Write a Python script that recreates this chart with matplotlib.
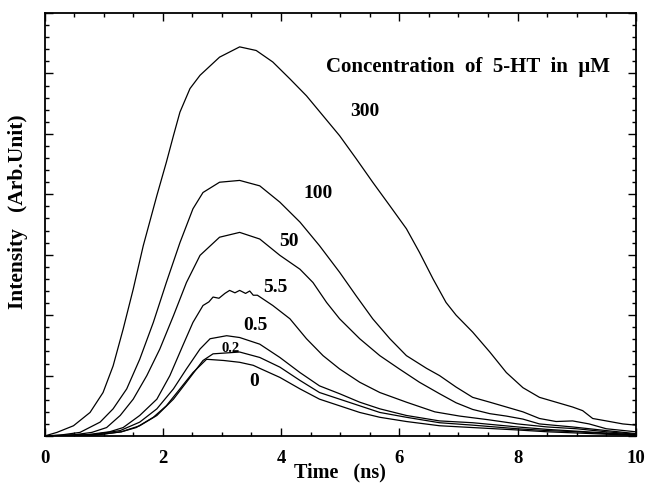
import numpy as np
import matplotlib
matplotlib.use("Agg")
import matplotlib.pyplot as plt
from matplotlib.ticker import MultipleLocator, NullFormatter

plt.rcParams['font.family'] = ['Liberation Serif', 'DejaVu Serif']
plt.rcParams['font.weight'] = 'bold'

# time (ns) / intensity (arb. units), one pair per concentration
t_300 = [0, 0.21, 0.49, 0.77, 0.99, 1.16, 1.33, 1.5, 1.67, 1.9, 2.06, 2.18, 2.29, 2.46, 2.63, 2.96, 3.3,
         3.58, 3.86, 4.15, 4.43, 4.71, 4.99, 5.27, 5.55, 5.84, 6.12, 6.34, 6.57, 6.79, 6.96, 7.24, 7.53,
         7.81, 8.09, 8.37, 8.65, 8.93, 9.1, 9.27, 9.5, 9.78, 10]
i_300 = [0, 0.06, 0.17, 0.39, 0.72, 1.16, 1.77, 2.43, 3.15, 3.98, 4.53, 4.97, 5.36, 5.75, 5.97, 6.27, 6.44,
         6.38, 6.19, 5.91, 5.63, 5.3, 4.97, 4.59, 4.2, 3.81, 3.43, 3.04, 2.6, 2.21, 2.0, 1.72, 1.39,
         1.05, 0.8, 0.64, 0.56, 0.48, 0.42, 0.29, 0.25, 0.2, 0.18]

t_100 = [0, 0.3, 0.6, 0.94, 1.16, 1.39, 1.61, 1.84, 2.06, 2.29, 2.51, 2.68, 2.96, 3.3, 3.64, 3.98, 4.32,
         4.65, 4.99, 5.27, 5.55, 5.84, 6.12, 6.46, 6.68, 6.96, 7.24, 7.53, 7.81, 8.09, 8.37, 8.65, 8.93,
         9.21, 9.5, 10]
i_100 = [0, 0.02, 0.06, 0.23, 0.45, 0.78, 1.27, 1.88, 2.54, 3.2, 3.76, 4.03, 4.2, 4.23, 4.14, 3.87, 3.54,
         3.15, 2.71, 2.32, 1.94, 1.61, 1.33, 1.12, 1.0, 0.81, 0.64, 0.56, 0.48, 0.4, 0.29, 0.24, 0.25,
         0.2, 0.12, 0.07]

t_50 = [0, 0.5, 0.8, 1.05, 1.28, 1.5, 1.73, 1.95, 2.18, 2.4, 2.63, 2.96, 3.3, 3.64, 3.98, 4.32, 4.54,
        4.77, 4.99, 5.33, 5.67, 6.0, 6.34, 6.68, 6.96, 7.24, 7.53, 7.81, 8.09, 8.37, 8.93, 9.5, 10]
i_50 = [0, 0.02, 0.06, 0.14, 0.34, 0.61, 1.0, 1.44, 1.99, 2.54, 2.99, 3.29, 3.37, 3.26, 2.99, 2.76, 2.54,
        2.21, 1.94, 1.61, 1.33, 1.11, 0.89, 0.7, 0.55, 0.44, 0.37, 0.33, 0.28, 0.2, 0.15, 0.09, 0.04]

t_5p5 = [0, 0.7, 1.1, 1.33, 1.61, 1.9, 2.12, 2.34, 2.51, 2.68, 2.78, 2.85, 2.95, 3.05, 3.13, 3.22, 3.3,
         3.4, 3.47, 3.53, 3.6, 3.86, 4.15, 4.43, 4.71, 4.99, 5.33, 5.67, 6.12, 6.6, 7.02, 7.5, 8.0, 8.5,
         9.0, 9.5, 10]
i_5p5 = [0, 0.02, 0.07, 0.14, 0.34, 0.61, 1.0, 1.5, 1.88, 2.16, 2.22, 2.3, 2.28, 2.36, 2.41, 2.37, 2.41,
         2.36, 2.4, 2.33, 2.33, 2.16, 1.94, 1.61, 1.33, 1.11, 0.89, 0.72, 0.56, 0.4, 0.33, 0.27, 0.2, 0.15,
         0.12, 0.07, 0.03]

t_0p5 = [0, 0.8, 1.28, 1.61, 1.9, 2.18, 2.4, 2.63, 2.8, 3.08, 3.3, 3.64, 3.98, 4.32, 4.65, 4.99, 5.33,
         5.67, 6.12, 6.68, 7.24, 8.0, 8.5, 9.0, 9.5, 10]
i_0p5 = [0, 0.02, 0.09, 0.23, 0.45, 0.78, 1.11, 1.44, 1.61, 1.66, 1.63, 1.52, 1.3, 1.05, 0.83, 0.7, 0.56,
         0.45, 0.34, 0.25, 0.22, 0.15, 0.11, 0.08, 0.05, 0.02]

t_0p2 = [0, 0.9, 1.3, 1.61, 1.9, 2.18, 2.4, 2.68, 2.85, 3.3, 3.64, 3.98, 4.32, 4.65, 4.99, 5.33, 5.67,
         6.12, 6.68, 7.24, 8.0, 8.5, 9.0, 9.5, 10]
i_0p2 = [0, 0.02, 0.07, 0.17, 0.34, 0.61, 0.89, 1.25, 1.36, 1.39, 1.3, 1.14, 0.92, 0.72, 0.61, 0.5, 0.39,
         0.31, 0.22, 0.18, 0.12, 0.09, 0.07, 0.04, 0.02]

t_0 = [0, 0.9, 1.3, 1.55, 1.84, 2.06, 2.29, 2.51, 2.74, 3.03, 3.3, 3.53, 3.64, 3.98, 4.32, 4.65, 4.99,
       5.33, 5.67, 6.12, 6.68, 7.24, 8.0, 8.5, 9.0, 9.5, 10]
i_0 = [0, 0.02, 0.07, 0.14, 0.31, 0.5, 0.78, 1.05, 1.27, 1.25, 1.22, 1.17, 1.12, 0.97, 0.78, 0.61, 0.5,
       0.39, 0.31, 0.24, 0.17, 0.14, 0.1, 0.07, 0.05, 0.03, 0.01]

curves = [(t_300, i_300), (t_100, i_100), (t_50, i_50), (t_5p5, i_5p5),
          (t_0p5, i_0p5), (t_0p2, i_0p2), (t_0, i_0)]

conc_labels = ["300", "100", "50", "5.5", "0.5", "0.2", "0"]
label_x = [5.41, 4.62, 4.14, 3.91, 3.57, 3.15, 3.54]
label_y = [5.39, 4.03, 3.24, 2.48, 1.85, 1.47, 0.92]
label_size = [14, 14, 14, 14, 14, 10.5, 14]

fig = plt.figure(figsize=(6.47, 4.89), dpi=100)
ax = fig.add_axes([0.0688, 0.1063, 0.914, 0.865])

for t, y in curves:
    ax.plot(t, y, color='black', linewidth=0.9)

for lab, x, y, s in zip(conc_labels, label_x, label_y, label_size):
    ax.text(x, y, lab, ha='center', va='center', fontsize=s, fontweight='bold')

ax.text(7.16, 6.13, "Concentration  of  5-HT  in  μM", ha='center', va='center',
        fontsize=15, fontweight='bold')

ax.set_xlim(0, 10)
ax.set_ylim(0, 7)
ax.xaxis.set_major_locator(MultipleLocator(2))
ax.xaxis.set_minor_locator(MultipleLocator(0.5))
ax.yaxis.set_major_locator(MultipleLocator(1))
ax.yaxis.set_minor_locator(MultipleLocator(0.2))
ax.yaxis.set_major_formatter(NullFormatter())
ax.tick_params(which='both', direction='in', top=True, right=True, width=1)
ax.tick_params(which='major', length=6, labelsize=13.5, pad=9)
ax.tick_params(which='minor', length=3)
for s in ax.spines.values():
    s.set_linewidth(1.3)

ax.set_xlabel("Time   (ns)", fontsize=14.5, fontweight='bold', labelpad=-3)
ax.set_ylabel("Intensity   (Arb.Unit)", fontsize=15.5, fontweight='bold')
ax.yaxis.set_label_coords(-0.028, 0.532)

fig.savefig("out.png", dpi=100)
